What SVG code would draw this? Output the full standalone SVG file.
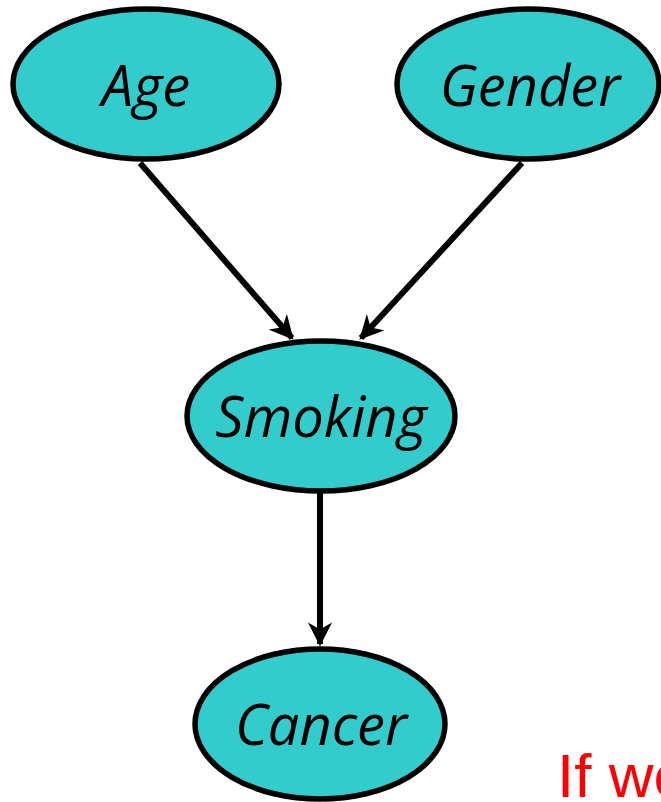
<svg xmlns="http://www.w3.org/2000/svg" width="661" height="802" viewBox="0 0 661 802">
<style>
.node{fill:#33CCCC;stroke:#000;stroke-width:5.5}
.lbl{font-family:"Open Sans","Liberation Sans",sans-serif;font-style:italic;font-size:56px;fill:#000;text-anchor:middle}
.edge{stroke:#000;stroke-width:6;fill:none}
</style>
<defs>
<marker id="arr" viewBox="0 0 10 10" refX="9" refY="5" markerWidth="4" markerHeight="4" orient="auto" markerUnits="strokeWidth">
<path d="M0,0 L10,5 L0,10 L3,5 Z" fill="#000"/>
</marker>
</defs>
<rect width="661" height="802" fill="#fff"/>
<g id="connectors">
<line class="edge" x1="140" y1="163" x2="292" y2="338" marker-end="url(#arr)"/>
<line class="edge" x1="522" y1="163" x2="361" y2="338" marker-end="url(#arr)"/>
<line class="edge" x1="320" y1="492" x2="320" y2="644" marker-end="url(#arr)"/>
</g>
<g id="age"><ellipse class="node" cx="146" cy="84" rx="133" ry="75"/><text class="lbl" x="146" y="106">Age</text></g>
<g id="gender"><ellipse class="node" cx="528" cy="84" rx="131" ry="75"/><text class="lbl" x="530" y="106">Gender</text></g>
<g id="smoking"><ellipse class="node" cx="321" cy="416" rx="134" ry="75"/><text class="lbl" x="321" y="437">Smoking</text></g>
<g id="cancer"><ellipse class="node" cx="320" cy="724" rx="125" ry="75"/><text class="lbl" x="321" y="745">Cancer</text></g>
<text x="557" y="797" font-family="Liberation Sans,sans-serif" font-size="62" fill="#FF0000">If we</text>
</svg>
